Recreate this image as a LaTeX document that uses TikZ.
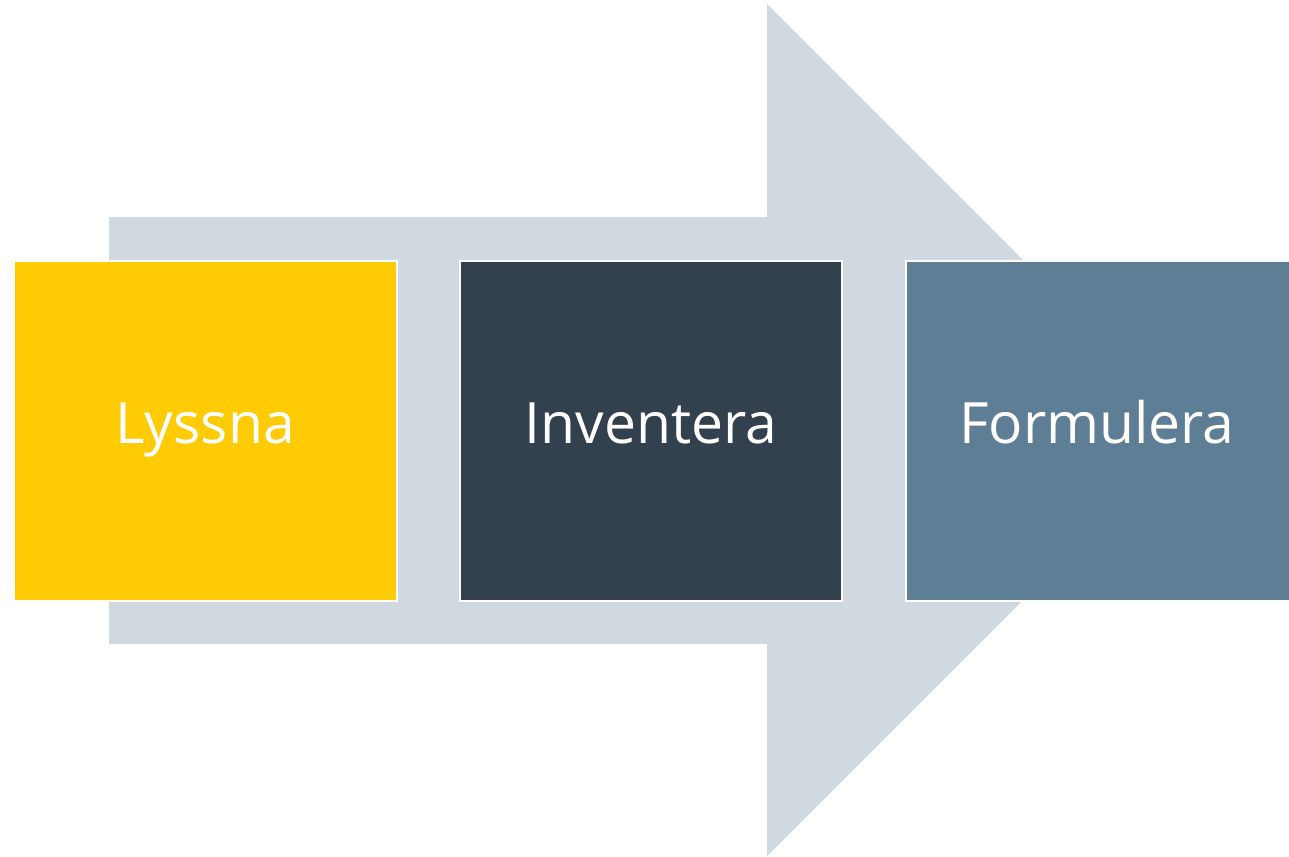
\documentclass[tikz,border=0pt]{standalone}
\usepackage{fontspec}
\setmainfont{Open Sans}
\definecolor{arrowgray}{HTML}{D1D9E0}
\definecolor{boxyellow}{HTML}{FECB05}
\definecolor{boxdark}{HTML}{33414E}
\definecolor{boxblue}{HTML}{5E7E96}
\tikzset{
  stepbox/.style={draw=white, line width=2.5pt},
  steplabel/.style={text=white, font=\fontsize{57}{60}\selectfont, anchor=base, inner sep=0pt}
}
\begin{document}
\begin{tikzpicture}[x=1pt,y=-1pt]
\fill[white] (0,0) rectangle (1289,856);
\useasboundingbox (0,0) rectangle (1289,856);
% big arrow
\fill[arrowgray] (109,217) -- (767,217) -- (767,4) -- (1193,430) -- (767,856) -- (767,644) -- (109,644) -- cycle;
% boxes
\filldraw[stepbox, fill=boxyellow] (14,261) rectangle (397,601);
\filldraw[stepbox, fill=boxdark] (460,261) rectangle (842,601);
\filldraw[stepbox, fill=boxblue] (906,261) rectangle (1292,601);
\node[steplabel] (l1) at (205,443) {Lyssna};
\node[steplabel] (l2) at (651,443) {Inventera};
\node[steplabel] (l3) at (1097,443) {Formulera};
\end{tikzpicture}
\end{document}
